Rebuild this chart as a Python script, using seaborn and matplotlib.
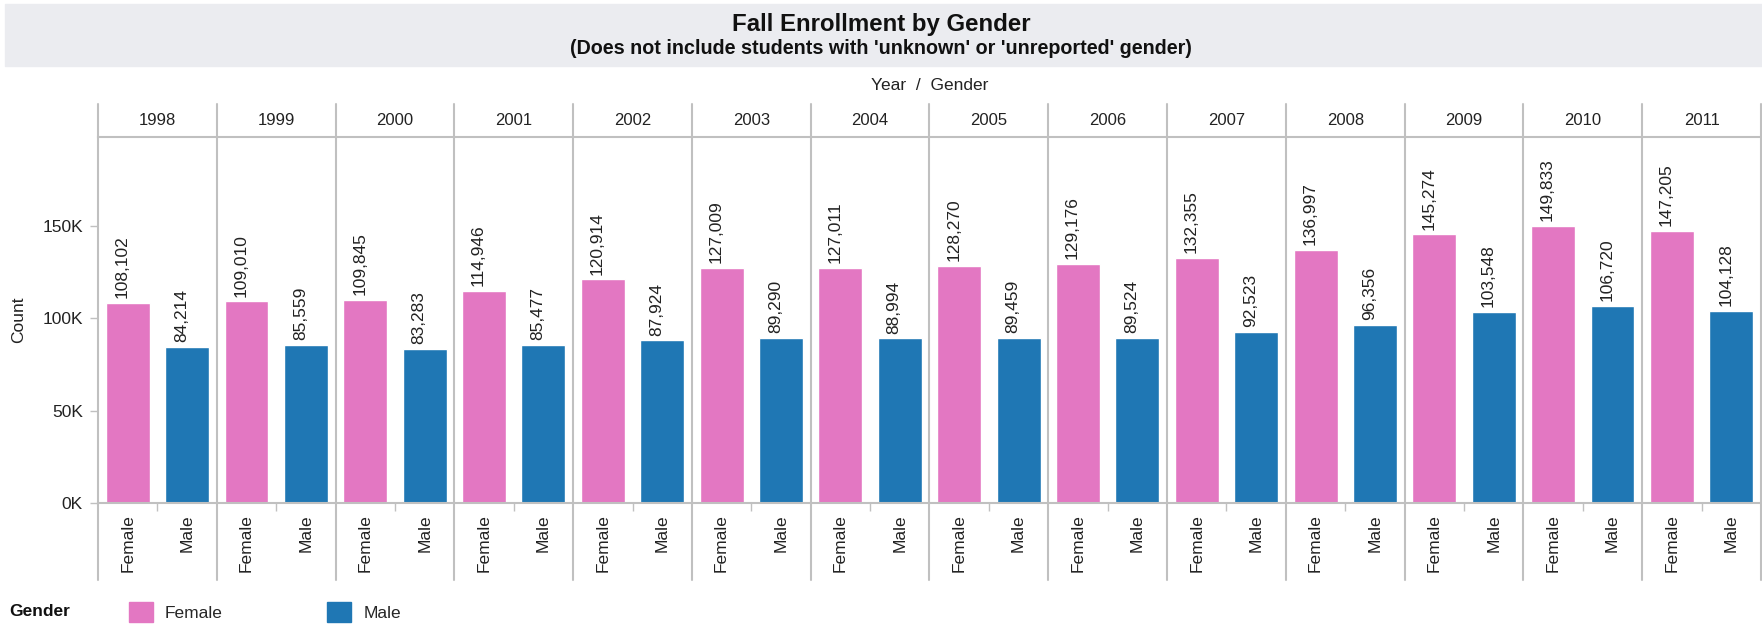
import matplotlib
matplotlib.use('Agg')
import matplotlib.pyplot as plt
from matplotlib.patches import Rectangle
from matplotlib.ticker import FuncFormatter
import numpy as np
import pandas as pd
import seaborn as sns

# data
years = ['1998', '1999', '2000', '2001', '2002', '2003', '2004',
         '2005', '2006', '2007', '2008', '2009', '2010', '2011']
female = [108102, 109010, 109845, 114946, 120914, 127009, 127011,
          128270, 129176, 132355, 136997, 145274, 149833, 147205]
male = [84214, 85559, 83283, 85477, 87924, 89290, 88994,
        89459, 89524, 92523, 96356, 103548, 106720, 104128]
genders = ['Female', 'Male']
palette = {'Female': '#e377c2', 'Male': '#1f77b4'}
y_ticks = [0, 50000, 100000, 150000]

df = pd.DataFrame({
    'Year': years * 2,
    'Gender': ['Female'] * len(years) + ['Male'] * len(years),
    'Count': female + male,
})

sns.set_theme(style='white')
plt.rcParams['font.family'] = ['Liberation Sans', 'DejaVu Sans']

W, H = 1762, 626
FS = 12.5
GRID = '#c0c0c0'
fig = plt.figure(figsize=(W / 100, H / 100), dpi=100)


def px(l, t, r, b):
    # pixel box -> figure rect
    return [l / W, 1 - b / H, (r - l) / W, (b - t) / H]


ax = fig.add_axes(px(98, 137, 1761, 503))
hx = fig.add_axes(px(98, 104, 1761, 137), sharex=ax)

sns.barplot(data=df, x='Year', y='Count', hue='Gender', hue_order=genders,
            order=years, palette=palette, saturation=1, width=1.0, gap=0.26,
            ax=ax)

# value labels
for cont in ax.containers:
    for bar in cont:
        v = bar.get_height()
        ax.annotate(f'{v:,.0f}', (bar.get_x() + bar.get_width() / 2, v),
                    xytext=(-4, 3.5), textcoords='offset points',
                    rotation=90, ha='center', va='bottom', fontsize=FS,
                    color='#222222')

n = len(years)
ax.set_xlim(-0.5, n - 0.5)
ax.set_ylim(0, 198000)
ax.set_yticks(y_ticks)
ax.yaxis.set_major_formatter(FuncFormatter(lambda v, p: f'{v / 1000:.0f}K'))
ax.tick_params(axis='y', length=5.8, width=1, color=GRID, labelsize=FS,
               pad=5, labelcolor='#222222', left=True)

# Female / Male labels under each year
pos = np.arange(n)
ax.set_xticks(np.concatenate([pos - 0.25, pos + 0.25]))
ax.set_xticklabels(['Female'] * n + ['Male'] * n, rotation=90)
ax.tick_params(axis='x', length=0, pad=8, labelsize=FS, labelcolor='#222222')
ax.set_xticks(pos, minor=True)
ax.tick_params(axis='x', which='minor', length=6, width=1, color=GRID,
               bottom=True)
ax.set_xlabel('')
ax.set_ylabel('')

for s in ['left', 'right']:
    ax.spines[s].set_visible(False)
for s in ['top', 'bottom']:
    ax.spines[s].set_color(GRID)
    ax.spines[s].set_linewidth(1.5)

# panel separators through header, plot and label rows
for b in np.arange(-0.5, n, 1.0):
    ax.axvline(b, ymin=-77 / 366, ymax=1, color=GRID, lw=1.5, clip_on=False)
    hx.axvline(b, color=GRID, lw=1.5, clip_on=False)

hx.set_axis_off()
for i, yr in enumerate(years):
    hx.text(i, 0.5, yr, transform=hx.get_xaxis_transform(), ha='center',
            va='center', fontsize=12, color='#222222')

ax.get_legend().remove()

# title band
fig.patches.append(Rectangle((5 / W, 1 - 66 / H), (W - 5) / W, 62 / H,
                             transform=fig.transFigure, color='#ebecf0',
                             zorder=0))
fig.text(0.5, 1 - 24 / H, 'Fall Enrollment by Gender', ha='center',
         va='center', fontsize=17.3, fontweight='bold', color='#111111')
fig.text(0.5, 1 - 49 / H,
         "(Does not include students with 'unknown' or 'unreported' gender)",
         ha='center', va='center', fontsize=14.2, fontweight='bold',
         color='#111111')
fig.text((98 + 1761) / 2 / W, 1 - 86 / H, 'Year  /  Gender', ha='center',
         va='center', fontsize=FS, color='#222222')
fig.text(19 / W, 1 - 320 / H, 'Count', rotation=90, ha='center', va='center',
         fontsize=FS, color='#222222')

# legend
fig.text(9 / W, 1 - 612 / H, 'Gender', ha='left', va='center', fontsize=FS,
         fontweight='bold', color='#111111')
handles = [Rectangle((0, 0), 1, 1, color=palette[g]) for g in genders]
fig.legend(handles, genders, loc='center left',
           bbox_to_anchor=(129 / W, 1 - 612 / H), ncol=2, frameon=False,
           fontsize=FS, handlelength=1.38, handleheight=1.38,
           handletextpad=0.7, columnspacing=6.0, borderpad=0,
           borderaxespad=0)

fig.savefig('out.png', dpi=100)
